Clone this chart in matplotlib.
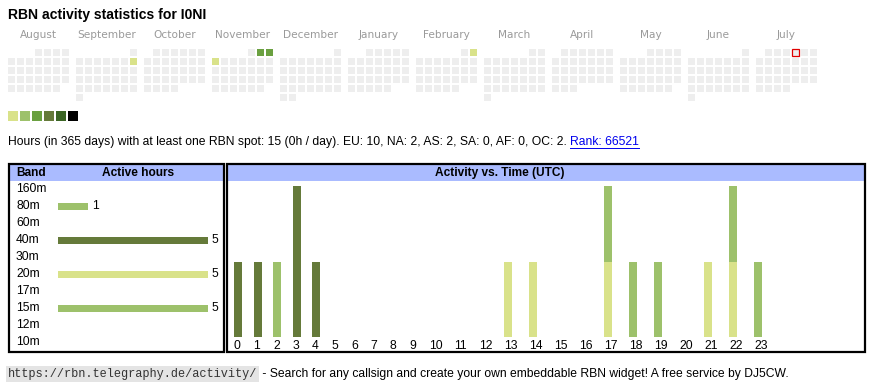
import datetime as dt
import matplotlib
matplotlib.use('Agg')
import matplotlib.pyplot as plt
from matplotlib.patches import Rectangle

plt.rcParams['font.family'] = ['Liberation Sans', 'DejaVu Sans']

# ---- data ----
callsign = 'I0NI'
months = ['August', 'September', 'October', 'November', 'December', 'January',
          'February', 'March', 'April', 'May', 'June', 'July']
start = dt.date(2024, 8, 1)
today = dt.date(2025, 7, 4)
active_days = [dt.date(2024, 9, 8), dt.date(2024, 11, 2), dt.date(2024, 11, 3),
               dt.date(2024, 11, 4), dt.date(2025, 2, 2)]
active_levels = [0, 2, 2, 0, 0]
level_colors = ['#d9e28a', '#9dc16b', '#6aa040', '#657a3a', '#3b6524', '#000000']

bands = ['160m', '80m', '60m', '40m', '30m', '20m', '17m', '15m', '12m', '10m']
band_hours = [0, 1, 0, 5, 0, 5, 0, 5, 0, 0]
band_colors = ['#3b6524', '#9dc16b', '#6aa040', '#657a3a', '#3b6524',
               '#d9e28a', '#6aa040', '#9dc16b', '#657a3a', '#000000']

hours = [str(h) for h in range(24)]
#                0  1  2  3  4  5  6  7  8  9 10 11 12 13 14 15 16 17 18 19 20 21 22 23
act = {
    '80m':     [0, 0, 1, 0, 0, 0, 0, 0, 0, 0, 0, 0, 0, 0, 0, 0, 0, 0, 0, 0, 0, 0, 0, 0],
    '40m':     [1, 1, 0, 2, 1, 0, 0, 0, 0, 0, 0, 0, 0, 0, 0, 0, 0, 0, 0, 0, 0, 0, 0, 0],
    '20m':     [0, 0, 0, 0, 0, 0, 0, 0, 0, 0, 0, 0, 0, 1, 1, 0, 0, 1, 0, 0, 0, 1, 1, 0],
    '15m':     [0, 0, 0, 0, 0, 0, 0, 0, 0, 0, 0, 0, 0, 0, 0, 0, 0, 1, 1, 1, 0, 0, 1, 1],
}

summary = ('Hours (in 365 days) with at least one RBN spot: 15 (0h / day). '
           'EU: 10, NA: 2, AS: 2, SA: 0, AF: 0, OC: 2. ')
rank = 'Rank: 66521'
url = 'https://rbn.telegraphy.de/activity/'
footer = ' - Search for any callsign and create your own embeddable RBN widget! A free service by DJ5CW.'

# ---- figure ----
W, H = 870, 390
fig = plt.figure(figsize=(W / 100, H / 100), dpi=100)
bg = fig.add_axes([0, 0, 1, 1])
bg.set_xlim(0, W)
bg.set_ylim(H, 0)
bg.axis('off')

bg.text(8, 15, 'RBN activity statistics for ' + callsign, fontsize=10.1,
        fontweight='bold', va='center')

# calendar
lvl = dict(zip(active_days, active_levels))
y, m = start.year, start.month
for i, name in enumerate(months):
    first = dt.date(y, m, 1)
    nxt = dt.date(y + (m == 12), m % 12 + 1, 1)
    x0 = 8 + 68 * i
    off = first.weekday()
    for k in range((nxt - first).days):
        day = first + dt.timedelta(days=k)
        col, row = day.weekday(), (k + off) // 7
        fc = level_colors[lvl[day]] if day in lvl else '#eeeeee'
        ec = '#e00000' if day == today else 'none'
        bg.add_patch(Rectangle((x0 + 9 * col, 49 + 9 * row), 7, 7,
                               fc=fc, ec=ec, lw=0.9))
    bg.text(x0 + 30.5, 35, name, fontsize=7.6, family='DejaVu Sans',
            color='#9a9a9a', ha='center', va='center')
    y, m = nxt.year, nxt.month

for i, c in enumerate(level_colors):
    bg.add_patch(Rectangle((8 + 12 * i, 111), 10, 10, fc=c, ec='none'))

fig.canvas.draw()
r = fig.canvas.get_renderer()
t = bg.text(8, 142, summary, fontsize=8.7, va='center')
x1 = t.get_window_extent(r).x1
bg.text(x1, 142, rank, fontsize=8.7, va='center', color='#0000ee')
x2 = bg.texts[-1].get_window_extent(r).x1
bg.plot([x1, x2], [147.5, 147.5], color='#0000ee', lw=0.7)

t = bg.text(8, 374, url, fontsize=8.55, family='Liberation Mono', va='center',
            color='#333333', bbox=dict(fc='#e4e4e4', ec='none', pad=1.2))
x1 = t.get_window_extent(r).x1
bg.text(x1 + 2, 374, footer, fontsize=8.7, va='center')

# panels
for (a, b) in [(8, 225), (226, 866)]:
    bg.add_patch(Rectangle((a + 2, 163), b - a - 4, 18, fc='#aabbff', ec='none'))
    bg.add_patch(Rectangle((a + 1, 164), b - a - 2, 188, fc='none', ec='black', lw=1.6))
bg.text(16, 173, 'Band', fontsize=8.6, fontweight='bold', va='center')
bg.text(138, 173, 'Active hours', fontsize=8.6, fontweight='bold', va='center', ha='center')
bg.text(500, 173, 'Activity vs. Time (UTC)', fontsize=8.6, fontweight='bold',
        va='center', ha='center')

# band bars
ax1 = fig.add_axes([10 / W, 1 - 350 / H, 213 / W, 169 / H])
ax1.patch.set_alpha(0)
ax1.axis('off')
ax1.set_xlim(-48 / 30, 165 / 30)
ax1.set_ylim((350 - 189) / 17, (181 - 189) / 17)
ypos = list(range(len(bands)))
ax1.barh(ypos, band_hours, height=7 / 17, color=band_colors)
for yy, b, v in zip(ypos, bands, band_hours):
    ax1.text(-1.4, yy, b, fontsize=8.7, va='center')
    if v:
        ax1.text(v + 0.13, yy, str(v), fontsize=8.7, va='center')

# activity bars
ax2 = fig.add_axes([228 / W, 1 - 337 / H, 636 / W, 156 / H])
ax2.patch.set_alpha(0)
for s in ax2.spines.values():
    s.set_visible(False)
ax2.set_xlim(0, 636)
ax2.set_ylim(0, 156 / 75.5)
lefts, x = [], 6.0
for h in hours:
    lefts.append(x)
    x += 19.5 if len(h) == 1 else 25
bottom = [0] * 24
for b in bands:
    if b in act:
        ax2.bar(lefts, act[b], width=8, bottom=bottom, align='edge',
                color=band_colors[bands.index(b)])
        bottom = [p + q for p, q in zip(bottom, act[b])]
ax2.set_yticks([])
ax2.set_xticks(lefts, hours, fontsize=8.7, ha='left')
ax2.tick_params(axis='x', length=0, pad=2.5)

fig.savefig('out.png', dpi=100)
